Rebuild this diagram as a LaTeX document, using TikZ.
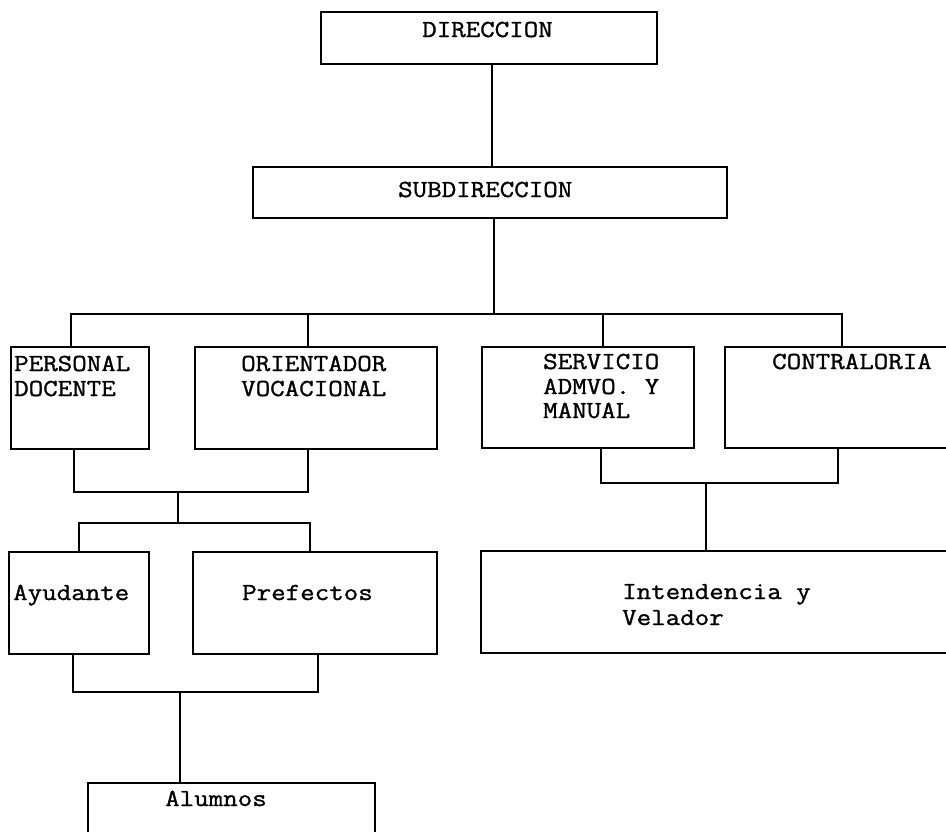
\documentclass[tikz,border=0pt]{standalone}
\usepackage{fontspec}
\setmonofont{Latin Modern Mono}[FakeStretch=1.15,FakeBold=1.2]
\begin{document}
\begin{tikzpicture}[x=1pt,y=-1pt,
  box/.style={draw=black,line width=1.3pt,rectangle,inner sep=0pt},
  txt/.style={inner sep=0pt,anchor=base west,font=\ttfamily\fontsize{24.5}{25}\selectfont},
  con/.style={draw=black,line width=1.3pt}]
\useasboundingbox (0,0) rectangle (946,831);
\fill[white] (0,0) rectangle (946,831);
\begin{scope}
\clip (0,0) rectangle (946,831);
% boxes
\node[box,minimum width=336pt,minimum height=52pt] (dir) at (489,38) {};
\node[box,minimum width=474pt,minimum height=51pt] (sub) at (490,192.5) {};
\node[box,minimum width=138pt,minimum height=102pt] (pd) at (80,398) {};
\node[box,minimum width=242pt,minimum height=102pt] (ov) at (316,398) {};
\node[box,minimum width=212pt,minimum height=101pt] (sam) at (588,397.5) {};
\node[box,minimum width=240pt,minimum height=101pt] (ctr) at (845,397.5) {};
\node[box,minimum width=140pt,minimum height=102pt] (ay) at (79,603) {};
\node[box,minimum width=244pt,minimum height=102pt] (pre) at (315,603) {};
\node[box,minimum width=479pt,minimum height=102pt] (int) at (720.5,602) {};
\node[box,minimum width=287pt,minimum height=67pt] (alu) at (231.5,816.5) {};
\end{scope}
% texts
\node[txt] (tdir) at (422,37) {DIRECCION};
\node[txt] (tsub) at (398,197) {SUBDIRECCION};
\node[txt] (tpd1) at (14,371) {PERSONAL};
\node[txt] (tpd2) at (14,396) {DOCENTE};
\node[txt] (tov1) at (241,371) {ORIENTADOR};
\node[txt] (tov2) at (241,396) {VOCACIONAL};
\node[txt] (tsa1) at (543,369) {SERVICIO};
\node[txt] (tsa2) at (543,394) {ADMVO. Y};
\node[txt] (tsa3) at (543,418) {MANUAL};
\node[txt] (tctr) at (772,369) {CONTRALORIA};
\node[txt] (tay) at (13,600) {Ayudante};
\node[txt] (tpre) at (242,600) {Prefectos};
\node[txt] (tint1) at (622,599) {Intendencia y};
\node[txt] (tint2) at (622,625) {Velador};
\node[txt] (talu) at (165,806) {Alumnos};
% connectors
\coordinate (d0) at (492,64);
\draw[con] (d0) -- (d0 |- sub.north);
\coordinate (b0) at (494,314);
\coordinate (b1) at (71,314);
\coordinate (b2) at (308,314);
\coordinate (b3) at (603,314);
\coordinate (b4) at (842,314);
\draw[con] (b0 |- sub.south) -- (b0);
\draw[con] (b1 |- pd.north) -- (b1) -- (b4) -- (b4 |- ctr.north);
\draw[con] (b2) -- (b2 |- ov.north);
\draw[con] (b3) -- (b3 |- sam.north);
% docente / orientador to ayudante / prefectos
\coordinate (c1) at (74,492);
\coordinate (c2) at (308,492);
\coordinate (c0) at (178,492);
\coordinate (e0) at (178,523);
\coordinate (e1) at (79,523);
\coordinate (e2) at (310,523);
\draw[con] (c1 |- pd.south) -- (c1) -- (c2) -- (c2 |- ov.south);
\draw[con] (c0) -- (e0);
\draw[con] (e1 |- ay.north) -- (e1) -- (e2) -- (e2 |- pre.north);
% ayudante / prefectos to alumnos
\coordinate (f1) at (73,692);
\coordinate (f2) at (318,692);
\coordinate (f0) at (180,692);
\draw[con] (f1 |- ay.south) -- (f1) -- (f2) -- (f2 |- pre.south);
\draw[con] (f0) -- (f0 |- alu.north);
% servicio / contraloria to intendencia
\coordinate (g1) at (601,483);
\coordinate (g2) at (838,483);
\coordinate (g0) at (706,483);
\draw[con] (g1 |- sam.south) -- (g1) -- (g2) -- (g2 |- ctr.south);
\draw[con] (g0) -- (g0 |- int.north);
\end{tikzpicture}
\end{document}
